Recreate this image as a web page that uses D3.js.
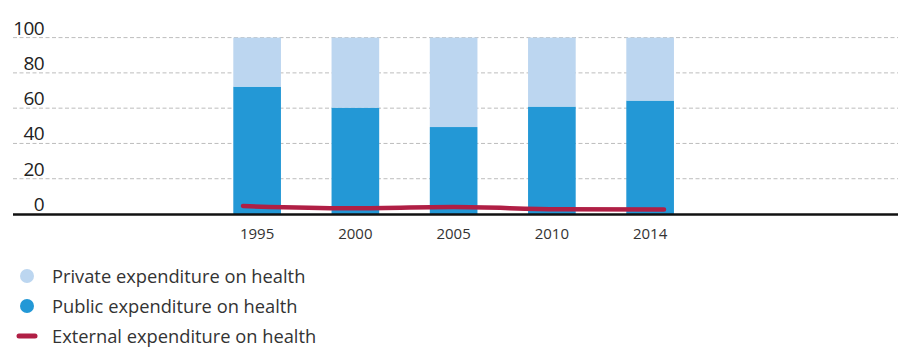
<!DOCTYPE html>
<html>
<head>
<meta charset="utf-8">
<script src="https://cdn.jsdelivr.net/npm/d3@7/dist/d3.min.js"></script>
<style>
  html, body { margin: 0; padding: 0; background: #fff; }
  svg { display: block; }
  text { font-family: "Open Sans", "Noto Sans", sans-serif; }
</style>
</head>
<body>
<svg id="chart" width="898" height="347"></svg>
<script>
// Health expenditure shares (% of total)
const years = ["1995", "2000", "2005", "2010", "2014"];
const publicShare = [72.2, 60.3, 49.3, 60.9, 64.3];
const privateShare = [27.8, 39.7, 50.7, 39.1, 35.7];
const externalShare = [4.5, 3.3, 3.9, 2.7, 2.5];
const yTicks = [0, 20, 40, 60, 80, 100];
const legendItems = [
  { label: "Private expenditure on health", color: "#bcd6f0", kind: "dot" },
  { label: "Public expenditure on health", color: "#2398d6", kind: "dot" },
  { label: "External expenditure on health", color: "#b01f45", kind: "line" }
];

const svg = d3.select("#chart");
const W = 898;
const plotLeft = 13, plotRight = W;

const y = d3.scaleLinear().domain([0, 100]).range([214, 37.6]);
const x = d3.scaleBand().domain(years).range([208, 699.25])
  .paddingInner(0.515).paddingOuter(0.2575);
const xLine = d3.scalePoint().domain(years).range([243, 664]);

// dashed gridlines
svg.append("g").selectAll("line")
  .data(yTicks.filter(d => d > 0))
  .join("line")
  .attr("x1", plotLeft).attr("x2", plotRight)
  .attr("y1", d => y(d)).attr("y2", d => y(d))
  .attr("stroke", "#bdbdbd").attr("stroke-width", 1)
  .attr("stroke-dasharray", "4,2.5");

// y tick labels sit just above their gridline
svg.append("g").selectAll("text")
  .data(yTicks)
  .join("text")
  .attr("x", 44).attr("y", d => y(d) - 3)
  .attr("text-anchor", "end")
  .attr("font-size", 19)
  .attr("letter-spacing", -0.6)
  .attr("fill", "#222")
  .text(d => d);

const rows = years.map((yr, i) => ({ year: yr, pub: publicShare[i], priv: privateShare[i] }));

// stacked bars: public at the bottom, private above
const bars = svg.append("g");
bars.selectAll("rect.pub").data(rows).join("rect")
  .attr("class", "pub")
  .attr("x", d => x(d.year)).attr("width", x.bandwidth())
  .attr("y", d => y(d.pub)).attr("height", d => y(0) - y(d.pub))
  .attr("fill", "#2398d6");
bars.selectAll("rect.priv").data(rows).join("rect")
  .attr("class", "priv")
  .attr("x", d => x(d.year)).attr("width", x.bandwidth())
  .attr("y", d => y(d.pub + d.priv)).attr("height", d => y(d.pub) - y(d.pub + d.priv))
  .attr("fill", "#bcd6f0");

// baseline
svg.append("line")
  .attr("x1", plotLeft).attr("x2", plotRight)
  .attr("y1", y(0) + 0.5).attr("y2", y(0) + 0.5)
  .attr("stroke", "#111").attr("stroke-width", 2.5);

// external expenditure line
const line = d3.line()
  .x((d, i) => xLine(years[i]))
  .y(d => y(d))
  .curve(d3.curveMonotoneX);
svg.append("path")
  .datum(externalShare)
  .attr("d", line)
  .attr("fill", "none")
  .attr("stroke", "#b01f45")
  .attr("stroke-width", 4.5)
  .attr("stroke-linecap", "round");

// x axis labels
svg.append("g").selectAll("text")
  .data(years)
  .join("text")
  .attr("x", d => x(d) + x.bandwidth() / 2)
  .attr("y", 239)
  .attr("text-anchor", "middle")
  .attr("font-size", 15)
  .attr("fill", "#333")
  .text(d => d);

// legend
const legend = svg.append("g");
const lg = legend.selectAll("g").data(legendItems).join("g")
  .attr("transform", (d, i) => `translate(0, ${276 + i * 30})`);
lg.filter(d => d.kind === "dot").append("circle")
  .attr("cx", 27).attr("cy", 0).attr("r", 7)
  .attr("fill", d => d.color);
lg.filter(d => d.kind === "line").append("line")
  .attr("x1", 19).attr("x2", 35).attr("y1", 0).attr("y2", 0)
  .attr("stroke", d => d.color).attr("stroke-width", 5)
  .attr("stroke-linecap", "round");
lg.append("text")
  .attr("x", 52).attr("y", 6.5)
  .attr("font-size", 18.3)
  .attr("fill", "#333")
  .text(d => d.label);
</script>
</body>
</html>
